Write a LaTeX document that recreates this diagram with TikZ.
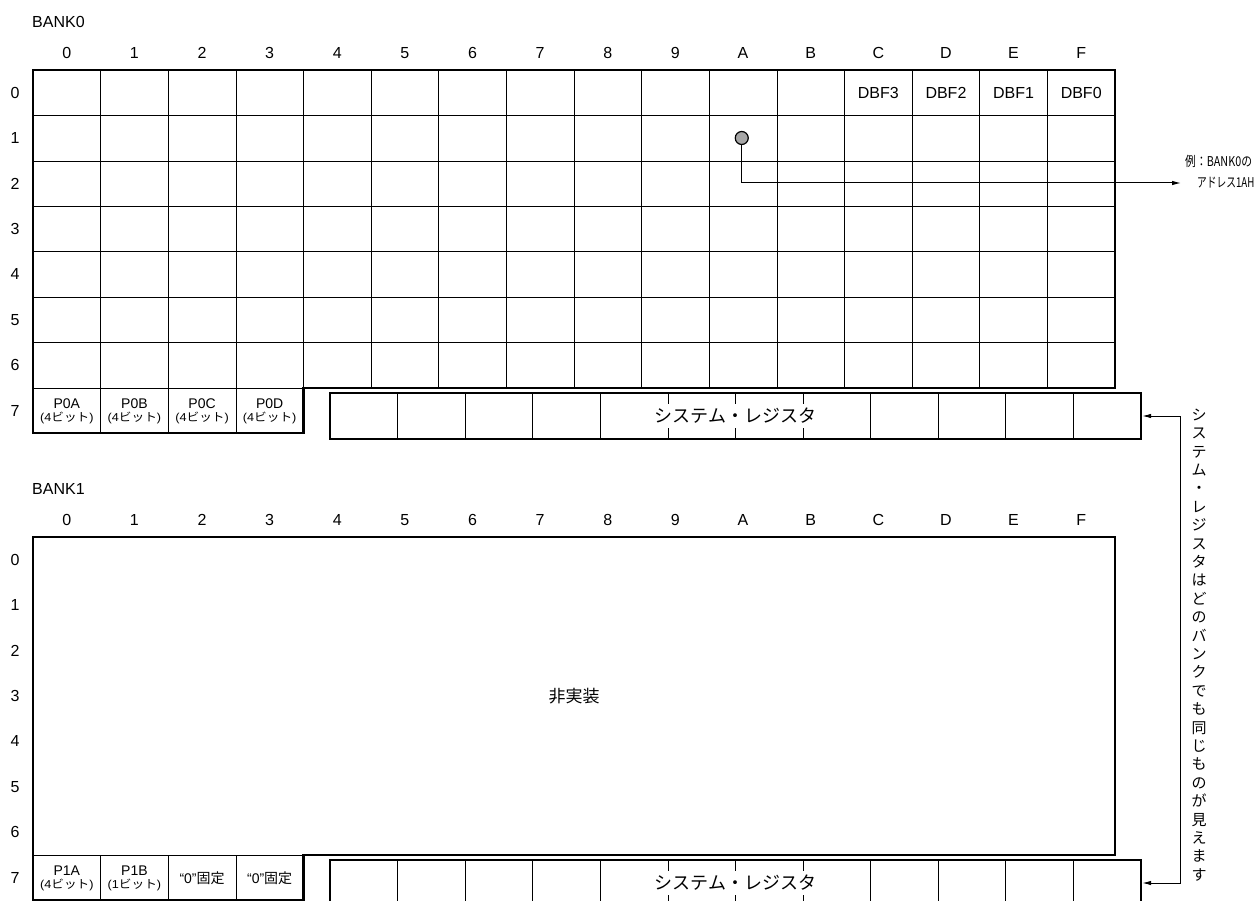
\documentclass[tikz,border=0pt]{standalone}
\usepackage{fontspec}
\setmainfont{Liberation Sans}
\newfontfamily\jp{Noto Sans CJK JP}
\usetikzlibrary{arrows.meta}
\begin{document}
\begin{tikzpicture}[x=1pt,y=-1pt,
  thinline/.style={line width=0.7pt},
  thickline/.style={line width=2.3pt},
  lbl/.style={font=\fontsize{16}{16}\selectfont, inner sep=0pt},
  cellA/.style={align=center, inner sep=0pt},
  tip/.style={-{Latex[length=9pt,width=4.5pt]}},
  sysbox/.style={draw, thickline, minimum width=811pt, minimum height=46pt, inner sep=0pt,
    font=\jp\fontsize{18}{18}\selectfont},
]
\useasboundingbox (0,0) rectangle (1257,901);
\clip (0,0) rectangle (1257,901);

% ---------------- BANK0 ----------------
\node[lbl, anchor=west] (bank0) at (32,22) {BANK0};
\foreach \c [count=\i from 0] in {0,1,2,3,4,5,6,7,8,9,A,B,C,D,E,F}
  \node[lbl] (h0-\i) at ({33+(\i+0.5)*67.625},53) {\c};
\foreach \r in {0,...,7}
  \node[lbl] (r0-\r) at (15,{70+(\r+0.5)*45.43}) {\r};

\foreach \i in {1,2,3}
  \draw[thinline] ({33+\i*67.625},70) -- ({33+\i*67.625},433);
\foreach \i in {4,...,15}
  \draw[thinline] ({33+\i*67.625},70) -- ({33+\i*67.625},388);
\foreach \j in {1,...,6}
  \draw[thinline] (33,{70+\j*45.43}) -- (1115,{70+\j*45.43});
\draw[thinline] (33,388) -- (303.5,388);
\draw[thickline] (33,70) -- (1115,70) -- (1115,388) -- (303.5,388) -- (303.5,433) -- (33,433) -- cycle;

% DBF labels
\foreach \t [count=\i from 12] in {DBF3,DBF2,DBF1,DBF0}
  \node[lbl] (dbf\i) at ({33+(\i+0.5)*67.625},93) {\t};

% row 7 port cells
\foreach \p/\b [count=\i from 0] in {P0A/4,P0B/4,P0C/4,P0D/4}
  \node[cellA] (p0-\i) at ({33+(\i+0.5)*67.625},411)
   {{\fontsize{14}{14}\selectfont \p}\\[1pt]{\fontsize{11.5}{12}\selectfont\scalebox{1.1}[1]{(\b{\jp ビット})}}};

% example dot and arrow
\node[circle, draw, line width=1.2pt, fill=gray!70, minimum size=13pt, inner sep=0pt] (dot) at (741.75,138) {};
\coordinate (ex) at (1181,183);
\draw[line width=1pt, tip] (dot.south) |- (ex);
\node[anchor=west, inner sep=0pt, font=\jp\fontsize{13.5}{14}\selectfont] (exl1) at (1185,161) {\scalebox{0.8}[1]{例：BANK0の}};
\node[anchor=west, inner sep=0pt, font=\jp\fontsize{13.5}{14}\selectfont] (exl2) at (1197,183) {\scalebox{0.72}[1]{アドレス1AH}};

% system register (bank0)
\node[sysbox] (sys0) at (735.5,416) {システム・レジスタ};
\foreach \k in {1,2,3,4,8,9,10,11}
  \draw[thinline] ({330+\k*67.58},393) -- ({330+\k*67.58},439);
\foreach \k in {5,6,7} {
  \draw[thinline] ({330+\k*67.58},393) -- ({330+\k*67.58},404);
  \draw[thinline] ({330+\k*67.58},439) -- ({330+\k*67.58},428);
}

% ---------------- BANK1 ----------------
\node[lbl, anchor=west] (bank1) at (32,489) {BANK1};
\foreach \c [count=\i from 0] in {0,1,2,3,4,5,6,7,8,9,A,B,C,D,E,F}
  \node[lbl] (h1-\i) at ({33+(\i+0.5)*67.625},520) {\c};
\foreach \r in {0,...,7}
  \node[lbl] (r1-\r) at (15,{537+(\r+0.5)*45.43}) {\r};

\foreach \i in {1,2,3}
  \draw[thinline] ({33+\i*67.625},855) -- ({33+\i*67.625},900);
\draw[thinline] (33,855) -- (303.5,855);
\draw[thickline] (33,537) -- (1115,537) -- (1115,855) -- (303.5,855) -- (303.5,900) -- (33,900) -- cycle;
\node[font=\jp\fontsize{17}{17}\selectfont] (nimpl) at (574,696) {非実装};

\foreach \p/\b [count=\i from 0] in {P1A/4,P1B/1}
  \node[cellA] (p1-\i) at ({33+(\i+0.5)*67.625},878)
   {{\fontsize{14}{14}\selectfont \p}\\[1pt]{\fontsize{11.5}{12}\selectfont\scalebox{1.1}[1]{(\b{\jp ビット})}}};
\foreach \i in {2,3}
  \node[cellA] (p1-\i) at ({33+(\i+0.5)*67.625},878)
   {\fontsize{14}{14}\selectfont “0”{\jp 固定}};

% system register (bank1)
\node[sysbox] (sys1) at (735.5,883) {システム・レジスタ};
\foreach \k in {1,2,3,4,8,9,10,11}
  \draw[thinline] ({330+\k*67.58},860) -- ({330+\k*67.58},906);
\foreach \k in {5,6,7} {
  \draw[thinline] ({330+\k*67.58},860) -- ({330+\k*67.58},871);
  \draw[thinline] ({330+\k*67.58},906) -- ({330+\k*67.58},895);
}

% shared connector
\draw[line width=1pt, {Latex[length=9pt,width=4.5pt]}-{Latex[length=9pt,width=4.5pt]}]
  (sys0.east) -- ++(38,0) |- (sys1.east);
\node[align=center, inner sep=0pt, font=\jp\fontsize{15}{18.4}\selectfont] (note) at (1199,645)
 {シ\\ス\\テ\\ム\\・\\レ\\ジ\\ス\\タ\\は\\ど\\の\\バ\\ン\\ク\\で\\も\\同\\じ\\も\\の\\が\\見\\え\\ま\\す};
\end{tikzpicture}
\end{document}
